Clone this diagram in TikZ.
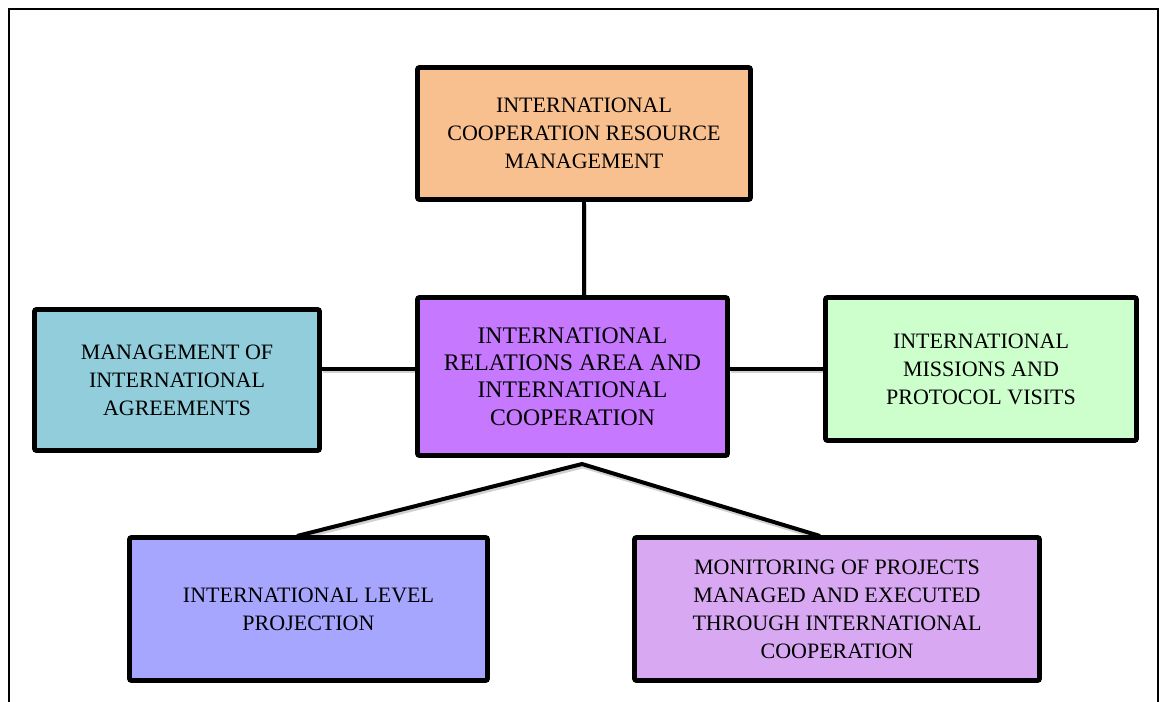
\documentclass[tikz,border=0pt]{standalone}
\usepackage{fontspec}
\usetikzlibrary{backgrounds}
\setmainfont{Liberation Serif}
\definecolor{cTop}{HTML}{F9C08F}
\definecolor{cCenter}{HTML}{C678FF}
\definecolor{cLeft}{HTML}{92CDDC}
\definecolor{cRight}{HTML}{CCFFCC}
\definecolor{cBL}{HTML}{A6A6FF}
\definecolor{cBR}{HTML}{D8A9F2}
\tikzset{
  box/.style={draw=black, line width=3.6pt, rounded corners=1.5pt, align=center,
    inner sep=0pt, font=\fontsize{16.5}{21}\selectfont},
  conn/.style={line width=3pt, draw=black,
    preaction={draw=black!18, line width=3pt, transform canvas={shift={(0.8pt,-1.8pt)}}}},
  frameline/.style={line width=1.6pt, draw=black}
}
\begin{document}
\begin{tikzpicture}[x=0.75pt,y=-0.75pt]
\useasboundingbox (0,0) rectangle (1163,702);
% outer frame (open at the bottom)
\coordinate (f1) at (9,702);
\coordinate (f2) at (9,9);
\coordinate (f3) at (1158,9);
\coordinate (f4) at (1158,702);
\draw[frameline] (f1) -- (f2) -- (f3) -- (f4);

\node[box, fill=cTop, minimum width=249.75pt, minimum height=99pt] (top) at (584,133.5)
  {INTERNATIONAL\\COOPERATION RESOURCE\\MANAGEMENT};
\node[box, fill=cCenter, minimum width=232.5pt, minimum height=118.5pt,
  font=\fontsize{17.8}{20.6}\selectfont] (center) at (572.5,376.5)
  {INTERNATIONAL\\RELATIONS AREA AND\\INTERNATIONAL\\COOPERATION};
\node[box, fill=cLeft, minimum width=213.75pt, minimum height=105.75pt] (left) at (177,380)
  {MANAGEMENT OF\\INTERNATIONAL\\AGREEMENTS};
\node[box, fill=cRight, minimum width=233.25pt, minimum height=107.25pt] (right) at (981,369)
  {INTERNATIONAL\\MISSIONS AND\\PROTOCOL VISITS};
\node[box, fill=cBL, minimum width=268.5pt, minimum height=107.25pt] (bl) at (308.5,609)
  {INTERNATIONAL LEVEL\\PROJECTION};
\node[box, fill=cBR, minimum width=303.75pt, minimum height=107.25pt] (br) at (837,609)
  {MONITORING OF PROJECTS\\MANAGED AND EXECUTED\\THROUGH INTERNATIONAL\\COOPERATION};

\coordinate (hl) at (0,369);
\coordinate (apex) at (582,464);
\coordinate (blend) at (297,536);
\coordinate (brend) at (820,536);

\begin{scope}[on background layer]
\draw[conn] (top.south) -- (top.south |- center.north);
\draw[conn] (left.east |- hl) -- (center.west |- hl);
\draw[conn] (center.east |- hl) -- (right.west |- hl);
\draw[conn, line join=miter] (blend) -- (apex) -- (brend);
\end{scope}
\end{tikzpicture}
\end{document}
